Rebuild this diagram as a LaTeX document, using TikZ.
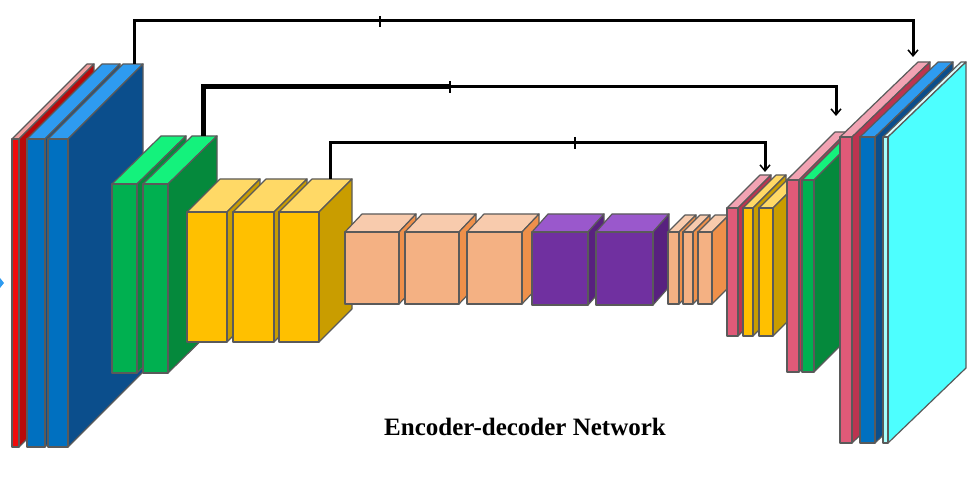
\documentclass[tikz,border=0pt]{standalone}
\usepackage{fontspec}
\setmainfont{Liberation Serif}
\usetikzlibrary{arrows.meta}
\definecolor{edgegray}{HTML}{5A5A5A}
\definecolor{redF}{HTML}{F00A0A}
\definecolor{redT}{HTML}{EFA0A0}
\definecolor{redS}{HTML}{B80A0A}
\definecolor{blueF}{HTML}{0070C0}
\definecolor{blueT}{HTML}{2E9BF0}
\definecolor{blueS}{HTML}{0B4E8C}
\definecolor{greenF}{HTML}{00B050}
\definecolor{greenT}{HTML}{14F27C}
\definecolor{greenS}{HTML}{05893C}
\definecolor{yelF}{HTML}{FFC000}
\definecolor{yelT}{HTML}{FFD966}
\definecolor{yelS}{HTML}{C99D00}
\definecolor{peachF}{HTML}{F4B183}
\definecolor{peachT}{HTML}{F8CBAD}
\definecolor{peachS}{HTML}{EF904A}
\definecolor{purpF}{HTML}{7030A0}
\definecolor{purpT}{HTML}{9A58CC}
\definecolor{purpS}{HTML}{58217F}
\definecolor{pinkF}{HTML}{E05A78}
\definecolor{pinkT}{HTML}{F2A3B3}
\definecolor{pinkS}{HTML}{BC3450}
\definecolor{cyanF}{HTML}{A8FFFF}
\definecolor{cyanT}{HTML}{DDFFFF}
\definecolor{cyanS}{HTML}{4DFFFF}
\tikzset{
  edge/.style={draw=edgegray, line width=1.2pt, line join=round},
  skipline/.style={line width=3pt, -{Straight Barb[length=6pt,width=10pt,line width=1.5pt]}},
  thickline/.style={line width=5pt},
  tick/.style={line width=2.5pt},
}
\newcommand{\cubeblk}[9]{%
  \filldraw[edge,fill=#8] (#1,#2) -- ++(#5,-#6) -- ++(#3,0) -- ++(-#5,#6) -- cycle;
  \filldraw[edge,fill=#9] (#1+#3,#2) -- ++(#5,-#6) -- ++(0,#4) -- ++(-#5,#6) -- cycle;
  \filldraw[edge,fill=#7] (#1,#2) rectangle ++(#3,#4);
}
\begin{document}
\begin{tikzpicture}[x=1pt,y=-1pt]
\useasboundingbox (0,0) rectangle (970,478);
% input arrow tip (cut at left edge)
\fill[blueT] (0,278) -- (4,283) -- (0,288) -- cycle;
% encoder
\cubeblk{12}{139}{7}{308}{75}{75}{redF}{redT}{redS}
\cubeblk{27}{139}{18}{308}{75}{75}{blueF}{blueT}{blueS}
\cubeblk{48}{139}{20}{308}{75}{75}{blueF}{blueT}{blueS}
\cubeblk{112}{184}{25}{189}{49}{48}{greenF}{greenT}{greenS}
\cubeblk{143}{184}{25}{189}{49}{48}{greenF}{greenT}{greenS}
\cubeblk{187}{212}{40}{130}{33}{33}{yelF}{yelT}{yelS}
\cubeblk{233}{212}{41}{130}{33}{33}{yelF}{yelT}{yelS}
\cubeblk{279}{212}{40}{130}{33}{33}{yelF}{yelT}{yelS}
\cubeblk{345}{232}{54}{72}{17}{18}{peachF}{peachT}{peachS}
\cubeblk{405}{232}{54}{72}{17}{18}{peachF}{peachT}{peachS}
\cubeblk{467}{232}{55}{72}{17}{18}{peachF}{peachT}{peachS}
\cubeblk{532}{232}{56}{73}{16}{18}{purpF}{purpT}{purpS}
\cubeblk{596}{232}{57}{73}{16}{18}{purpF}{purpT}{purpS}
\cubeblk{668}{232}{11}{72}{17}{17}{peachF}{peachT}{peachS}
\cubeblk{683}{232}{10}{72}{17}{17}{peachF}{peachT}{peachS}
\cubeblk{698}{232}{14}{72}{17}{17}{peachF}{peachT}{peachS}
% decoder
\cubeblk{727}{208}{11}{128}{33}{33}{pinkF}{pinkT}{pinkS}
\cubeblk{743}{208}{10}{128}{33}{33}{yelF}{yelT}{yelS}
\cubeblk{759}{208}{14}{128}{33}{33}{yelF}{yelT}{yelS}
\cubeblk{787}{180}{12}{192}{48}{48}{pinkF}{pinkT}{pinkS}
\cubeblk{802}{180}{12}{192}{48}{48}{greenF}{greenT}{greenS}
\cubeblk{840}{137}{12}{306}{78}{75}{pinkF}{pinkT}{pinkS}
\cubeblk{860}{137}{15}{306}{78}{75}{blueF}{blueT}{blueS}
\cubeblk{883}{137}{5}{306}{78}{75}{cyanF}{cyanT}{cyanS}
% skip connections
\coordinate (s1) at (134,64);
\coordinate (t1) at (913,57);
\coordinate (s2) at (203,136);
\coordinate (k2) at (450,87);
\coordinate (t2) at (836,116);
\coordinate (s3) at (330,179);
\coordinate (t3) at (765,172);
\draw[skipline] (s1) -- ++(0,-43) -| (t1);
\draw[thickline] (s2) |- (k2);
\draw[skipline] (k2) -| (t2);
\draw[skipline] (s3) -- ++(0,-36) -| (t3);
\draw[tick] (380,16) -- (380,27);
\draw[tick] (450,81) -- (450,93);
\draw[tick] (575,137) -- (575,149);
% title
\node[font=\bfseries\fontsize{25}{25}\selectfont] (title) at (525,427) {Encoder-decoder Network};
\end{tikzpicture}
\end{document}
